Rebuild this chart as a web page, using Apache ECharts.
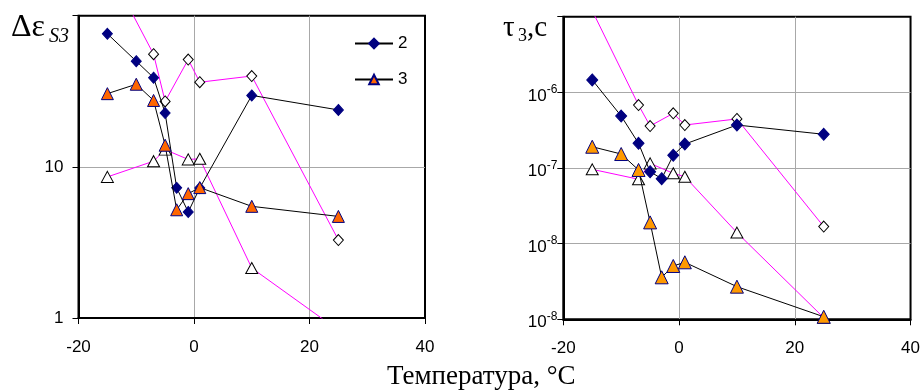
<!DOCTYPE html>
<html>
<head>
<meta charset="utf-8">
<script src="https://cdn.jsdelivr.net/npm/echarts@6/dist/echarts.min.js"></script>
<style>
html,body{margin:0;padding:0;background:#fff;}
#chart{width:923px;height:391px;}
</style>
</head>
<body>
<div id="chart"></div>
<script>
// ---- data ----
const xTicks = [-20, 0, 20, 40];
const tempsFull = [-15, -10, -7, -5, -3, -1, 1, 10, 25];
const tempsOpen = [-15, -7, -5, -1, 1, 10, 25];

// left panel: Δε_S3
const epsS2 = [75.9, 50, 38.9, 22.7, 7.26, 5.03, 7.25, 29.7, 23.8];
const epsS3 = [30.5, 35.2, 27.5, 13.9, 5.2, 6.65, 7.29, 5.48, 4.7];
const epsOpenDiamond = [213, 55.6, 27.1, 51.3, 36.3, 39.9, 3.28];
const epsOpenTriangle = [8.58, 10.9, 13.0, 11.2, 11.3, 2.14, 0.83];

// right panel: τ3, c
const tauS2 = [1.46e-6, 4.86e-7, 2.12e-7, 8.93e-8, 7.23e-8, 1.47e-7, 2.07e-7, 3.70e-7, 2.79e-7];
const tauS3 = [1.91e-7, 1.53e-7, 9.42e-8, 1.91e-8, 3.59e-9, 5.07e-9, 5.67e-9, 2.70e-9, 1.08e-9];
const tauOpenDiamond = [1.2e-5, 6.8e-7, 3.59e-7, 5.28e-7, 3.70e-7, 4.45e-7, 1.68e-8];
const tauOpenTriangle = [9.6e-8, 7.1e-8, 1.15e-7, 8.51e-8, 7.67e-8, 1.40e-8, 1.05e-9];

// tick labels (by decade exponent)
const leftYLabels = {0: '1', 1: '10', 2: ''};
const rightYLabels = {'-9': ['10', '-8'], '-8': ['10', '-8'], '-7': ['10', '-7'], '-6': ['10', '-6'], '-5': null};

const legendNames = ['2', '3'];
const titleLeftMain = 'Δε', titleLeftSub = 'S3';
const titleRightMain = 'τ', titleRightSub = '3', titleRightTail = ',c';
const xTitle = 'Температура, °C';

// ---- build ----
function pairs(xs, ys, hiddenIdx) {
  return xs.map((x, i) => {
    const item = {value: [x, ys[i]]};
    if (hiddenIdx && hiddenIdx.indexOf(i) >= 0) item.symbol = 'none';
    return item;
  });
}
const SANS = 'Liberation Sans, Arial, sans-serif';
const SERIF = 'Liberation Serif, Times New Roman, serif';
const GRIDC = '#a8a8a8';

function xAxis(gi) {
  return {
    type: 'value', gridIndex: gi, min: -20, max: 40, interval: 20,
    axisLine: {show: true, onZero: false, lineStyle: {color: '#000', width: 2}},
    axisTick: {show: true, length: 6, lineStyle: {color: '#000', width: 1}},
    axisLabel: {color: '#000', fontFamily: SANS, fontSize: 17, margin: 21,
      formatter: v => String(xTicks[xTicks.indexOf(v)])},
    splitLine: {show: true, lineStyle: {color: ['transparent', GRIDC, GRIDC, 'transparent'], width: 1}}
  };
}

const baseLine = (name, xi, yi, data, fill, symbol, size, z) => ({
  name: name, type: 'line', xAxisIndex: xi, yAxisIndex: yi, data: data,
  symbol: symbol, symbolSize: size, clip: true, z: z,
  lineStyle: {color: '#000', width: 1},
  itemStyle: {color: fill, borderColor: '#000080', borderWidth: 1},
  emphasis: {disabled: true}
});
const openLine = (name, xi, yi, data, symbol, size, z) => ({
  name: name, type: 'line', xAxisIndex: xi, yAxisIndex: yi, data: data,
  symbol: symbol, symbolSize: size, clip: true, z: z,
  lineStyle: {color: '#ff00ff', width: 1},
  itemStyle: {color: '#fff', borderColor: '#000', borderWidth: 1},
  emphasis: {disabled: true}
});

const serifStyle = (size, italic) => ({fontFamily: SERIF, fontSize: size, fontWeight: 'normal',
  fontStyle: italic ? 'italic' : 'normal', color: '#000'});

const option = {
  animation: false,
  backgroundColor: '#fff',
  title: [
    {text: titleLeftMain, left: 11, top: 12, padding: 0, textStyle: serifStyle(32)},
    {text: titleLeftSub, left: 49, top: 27, padding: 0, textStyle: serifStyle(20, true)},
    {text: titleRightMain, left: 503, top: 14, padding: 0, textStyle: serifStyle(29)},
    {text: titleRightSub, left: 518, top: 27, padding: 0, textStyle: serifStyle(18)},
    {text: titleRightTail, left: 527, top: 14, padding: 0, textStyle: serifStyle(29)},
    {text: xTitle, left: 387, top: 363, padding: 0, textStyle: serifStyle(27)}
  ],
  legend: {
    data: legendNames, orient: 'vertical', left: 349, top: 30,
    itemWidth: 38, itemHeight: 12, itemGap: 19,
    textStyle: {fontFamily: SANS, fontSize: 17, color: '#000'},
    selectedMode: false
  },
  grid: [
    {left: 78.5, top: 15.7, width: 346.5, height: 302.3, show: true, borderColor: '#000', borderWidth: 2, backgroundColor: 'transparent'},
    {left: 563.3, top: 16.7, width: 350, height: 302.6, show: true, borderColor: '#000', borderWidth: 2, backgroundColor: 'transparent'}
  ],
  xAxis: [xAxis(0), xAxis(1)],
  yAxis: [
    {
      type: 'log', logBase: 10, gridIndex: 0, min: 1, max: 100,
      axisLine: {show: true, onZero: false, lineStyle: {color: '#000', width: 2}},
      axisTick: {show: true, length: 6, lineStyle: {color: '#000', width: 1}},
      axisLabel: {color: '#000', fontFamily: SANS, fontSize: 17, margin: 15,
        formatter: v => leftYLabels[Math.round(Math.log10(v))]},
      splitLine: {show: true, lineStyle: {color: ['transparent', GRIDC, 'transparent'], width: 1}},
      minorTick: {show: false}
    },
    {
      type: 'log', logBase: 10, gridIndex: 1, min: 1e-9, max: 1e-5,
      axisLine: {show: true, onZero: false, lineStyle: {color: '#000', width: 2}},
      axisTick: {show: true, length: 6, lineStyle: {color: '#000', width: 1}},
      axisLabel: {color: '#000', fontFamily: SANS, fontSize: 17, margin: 6,
        formatter: v => {
          const l = rightYLabels[String(Math.round(Math.log10(v)))];
          return l ? '{b|' + l[0] + '}{s|' + l[1] + '}' : '';
        },
        rich: {
          b: {fontFamily: SANS, fontSize: 17, color: '#000', padding: [7, 0, 0, 0]},
          s: {fontFamily: SANS, fontSize: 12, color: '#000', padding: [0, 0, 5, 0]}
        }
      },
      splitLine: {show: true, lineStyle: {color: ['transparent', GRIDC, GRIDC, GRIDC, 'transparent'], width: 1}},
      minorTick: {show: false}
    }
  ],
  series: [
    openLine('oD', 0, 0, pairs(tempsOpen, epsOpenDiamond, [0]), 'diamond', [10, 11], 3),
    openLine('oT', 0, 0, pairs(tempsOpen, epsOpenTriangle, [6]), 'triangle', [12, 11], 3),
    baseLine('2', 0, 0, pairs(tempsFull, epsS2), '#000080', 'diamond', [10, 11], 4),
    baseLine('3', 0, 0, pairs(tempsFull, epsS3), '#ff6600', 'triangle', [12, 12], 5),

    openLine('toD', 1, 1, pairs(tempsOpen, tauOpenDiamond, [0]), 'diamond', [10, 11], 3),
    openLine('toT', 1, 1, pairs(tempsOpen, tauOpenTriangle), 'triangle', [12, 11], 3),
    baseLine('t2', 1, 1, pairs(tempsFull, tauS2), '#000080', 'diamond', [11, 12], 4),
    baseLine('t3', 1, 1, pairs(tempsFull, tauS3), '#ff9900', 'triangle', [13, 13], 5)
  ]
};

const chart = echarts.init(document.getElementById('chart'), null, {renderer: 'canvas'});
chart.setOption(option);
</script>
</body>
</html>
